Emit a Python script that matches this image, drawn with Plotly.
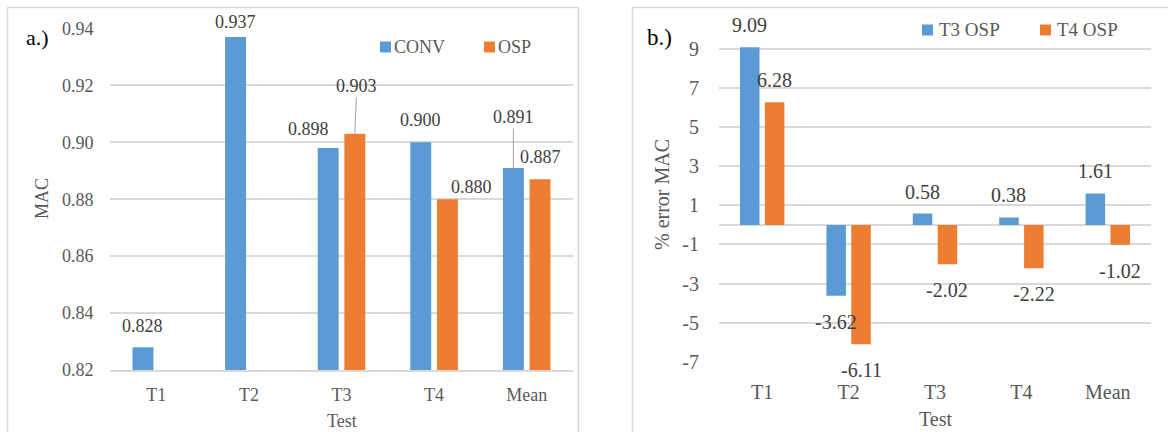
import plotly.graph_objects as go

# ---- data -------------------------------------------------------------
tests = ["T1", "T2", "T3", "T4", "Mean"]
mac_conv = [0.828, 0.937, 0.898, 0.900, 0.891]
mac_osp = [None, None, 0.903, 0.880, 0.887]
err_t3_osp = [9.09, -3.62, 0.58, 0.38, 1.61]
err_t4_osp = [6.28, -6.11, -2.02, -2.22, -1.02]
mac_ticks = [0.82, 0.84, 0.86, 0.88, 0.90, 0.92, 0.94]
err_ticks = [-7, -5, -3, -1, 1, 3, 5, 7, 9]

# ---- styling ----------------------------------------------------------
W, H = 1168, 432
BLUE = "#5B9BD5"
ORANGE = "#ED7D31"
GRID = "#D9D9D9"
TICK = "#595959"
LABEL = "#404040"
SERIF = "Liberation Serif, Times New Roman, serif"

HALF = 0.144   # distance of each bar centre from its category centre
BW = 0.226     # bar width in category units

# error axis: -7 sits at 361.7 px, 9 at 49 px; the range runs a little past 9
ERR_LO, ERR_HI = -7, 9.2
ERR_PX_PER_UNIT = (361.7 - 49) / 16
ERR_TOP_PX = 49 - (ERR_HI - 9) * ERR_PX_PER_UNIT


def px(x):
    return x / W


def py(y):
    return 1 - y / H


fig = go.Figure()

# panel a: MAC values
fig.add_trace(go.Bar(x=tests, y=mac_conv, name="CONV", marker_color=BLUE,
                     offset=-HALF - BW / 2, width=BW, xaxis="x", yaxis="y"))
fig.add_trace(go.Bar(x=tests, y=mac_osp, name="OSP", marker_color=ORANGE,
                     offset=HALF - BW / 2, width=BW, xaxis="x", yaxis="y"))

# panel b: percentage error
fig.add_trace(go.Bar(x=tests, y=err_t3_osp, name="T3 OSP", marker_color=BLUE,
                     offset=-HALF - BW / 2, width=BW, xaxis="x2", yaxis="y2"))
fig.add_trace(go.Bar(x=tests, y=err_t4_osp, name="T4 OSP", marker_color=ORANGE,
                     offset=HALF - BW / 2, width=BW, xaxis="x2", yaxis="y2"))
fig.update_traces(marker_line_width=0)

annotations = []

# value labels, panel a (pixel nudges: dx right, dy up; "arrow" = leader line)
left_nudge = {
    ("conv", 0): (0, 21), ("conv", 1): (0, 15), ("conv", 2): (-20, 19),
    ("conv", 3): (0, 22), ("conv", 4): (0, 51, "arrow"),
    ("osp", 2): (2, 48, "arrow"), ("osp", 3): (24, 12), ("osp", 4): (0, 22),
}
for key, vals, sign in (("conv", mac_conv, -1), ("osp", mac_osp, 1)):
    for i, v in enumerate(vals):
        if v is None:
            continue
        nud = left_nudge[(key, i)]
        common = dict(x=i + sign * HALF, y=v, xref="x", yref="y",
                      text=f"{v:.3f}", font=dict(family=SERIF, size=18, color=LABEL))
        if len(nud) == 3:
            annotations.append(dict(**common, showarrow=True, arrowhead=0,
                                    arrowwidth=1, arrowcolor="#A6A6A6",
                                    ax=nud[0], ay=-nud[1], standoff=0))
        else:
            annotations.append(dict(**common, showarrow=False, xshift=nud[0],
                                    yshift=nud[1], yanchor="middle"))

# value labels, panel b
for vals, sign in ((err_t3_osp, -1), (err_t4_osp, 1)):
    for i, v in enumerate(vals):
        annotations.append(dict(x=i + sign * HALF, y=v, xref="x2", yref="y2",
                                text=f"{v:.2f}", showarrow=False,
                                yshift=22 if v >= 0 else -26, yanchor="middle",
                                font=dict(family=SERIF, size=20, color=LABEL)))


# axis titles and panel tags
def text_at(x, y, s, size, color=TICK, angle=0, xanchor="center"):
    annotations.append(dict(x=px(x), y=py(y), xref="paper", yref="paper", text=s,
                            showarrow=False, textangle=angle, xanchor=xanchor,
                            yanchor="middle", font=dict(family=SERIF, size=size, color=color)))


text_at(42, 199, "MAC", 18, angle=-90)
text_at(341.5, 421, "Test", 18)
text_at(662, 195, "% error MAC", 20, angle=-90)
text_at(935, 419, "Test", 20)
text_at(24, 37, "a.)", 22, color="#000000", xanchor="left")
text_at(645, 37, "b.)", 23, color="#000000", xanchor="left")

# legends
shapes = []


def legend_item(x0, yc, size, color, label, gap, fsize):
    shapes.append(dict(type="rect", xref="paper", yref="paper",
                       x0=px(x0), x1=px(x0 + size), y0=py(yc + size / 2), y1=py(yc - size / 2),
                       fillcolor=color, line_width=0))
    text_at(x0 + size + gap, yc, label, fsize, xanchor="left")


legend_item(380, 47, 11, BLUE, "CONV", 1, 18)
legend_item(484, 47, 11, ORANGE, "OSP", 1, 18)
legend_item(922, 30, 11, BLUE, "T3 OSP", 4, 19)
legend_item(1040, 30, 11, ORANGE, "T4 OSP", 4, 19)


# chart frames
def frame_line(x0, y0, x1, y1):
    shapes.append(dict(type="line", xref="paper", yref="paper",
                       x0=px(x0), y0=py(y0), x1=px(x1), y1=py(y1),
                       line=dict(color=GRID, width=1.5)))


frame_line(7.5, 7.5, 578.5, 7.5)
frame_line(7.5, 7.5, 7.5, 440)
frame_line(578.5, 7.5, 578.5, 440)
frame_line(632.5, 7.5, 1175, 7.5)
frame_line(632.5, 7.5, 632.5, 440)

axis_font = dict(family=SERIF, size=18, color=TICK)
axis_font_b = dict(family=SERIF, size=20, color=TICK)

fig.update_layout(
    width=W, height=H, autosize=False,
    margin=dict(l=0, r=0, t=0, b=0, pad=0),
    paper_bgcolor="white", plot_bgcolor="white",
    barmode="overlay", showlegend=False,
    annotations=annotations, shapes=shapes,
    xaxis=dict(domain=[px(110), px(573)], anchor="y", type="category", automargin=False,
               showgrid=False, zeroline=False, showline=True, linecolor=GRID, linewidth=1.5,
               ticks="outside", ticklen=8, tickcolor="rgba(0,0,0,0)", tickfont=axis_font),
    yaxis=dict(domain=[py(370), py(28.5)], anchor="x", range=[0.82, 0.94], automargin=False,
               tickvals=mac_ticks, ticktext=[f"{t:.2f}" for t in mac_ticks],
               showgrid=True, gridcolor=GRID,
               gridwidth=1.5, zeroline=False, showline=False,
               ticks="outside", ticklen=12, tickcolor="rgba(0,0,0,0)", tickfont=axis_font),
    xaxis2=dict(domain=[px(719), px(1151)], anchor="y2", type="category", automargin=False,
                showgrid=False, zeroline=False, showline=False,
                ticks="outside", ticklen=12, tickcolor="rgba(0,0,0,0)", tickfont=axis_font_b),
    yaxis2=dict(domain=[py(361.7), py(ERR_TOP_PX)], anchor="x2", range=[ERR_LO, ERR_HI],
                automargin=False, tickvals=err_ticks, ticktext=[str(t) for t in err_ticks],
                showgrid=True, gridcolor=GRID,
                gridwidth=1.5, zeroline=True, zerolinecolor=GRID, zerolinewidth=1.5,
                showline=False, ticks="outside", ticklen=15,
                tickcolor="rgba(0,0,0,0)", tickfont=axis_font_b),
)

fig.write_html("out.html")
